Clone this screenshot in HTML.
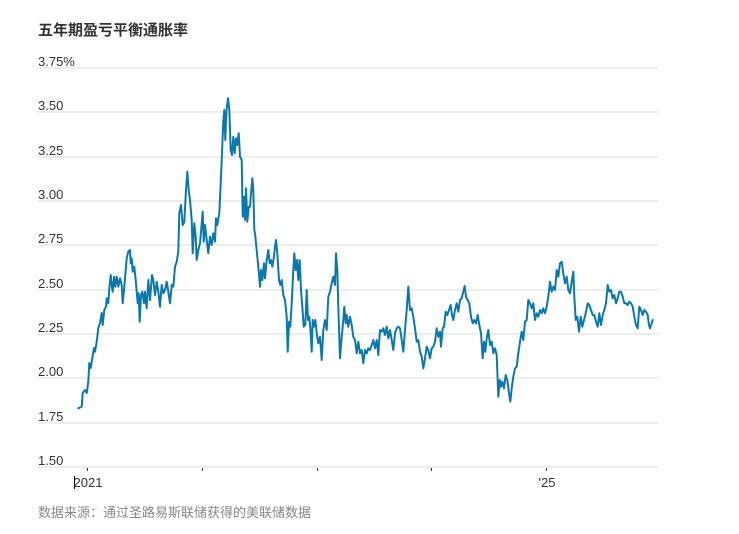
<!DOCTYPE html>
<html>
<head>
<meta charset="utf-8">
<style>
html,body{margin:0;padding:0;background:#fff;}
body{width:739px;height:534px;overflow:hidden;position:relative;}
svg{position:absolute;left:0;top:0;}
</style>
</head>
<body>
<svg width="739" height="534" viewBox="0 0 739 534" xmlns="http://www.w3.org/2000/svg">
  <text x="38" y="35" font-family="'Liberation Sans','Noto Sans CJK SC',sans-serif" font-size="15" font-weight="bold" fill="#333">五年期盈亏平衡通胀率</text>

  <g stroke="#ededed" stroke-width="2">
    <line x1="38" y1="68" x2="658" y2="68"/>
    <line x1="38" y1="112" x2="658" y2="112"/>
    <line x1="38" y1="157" x2="658" y2="157"/>
    <line x1="38" y1="201" x2="658" y2="201"/>
    <line x1="38" y1="245" x2="658" y2="245"/>
    <line x1="38" y1="290" x2="658" y2="290"/>
    <line x1="38" y1="334" x2="658" y2="334"/>
    <line x1="38" y1="378" x2="658" y2="378"/>
    <line x1="38" y1="423" x2="658" y2="423"/>
    <line x1="38" y1="467" x2="658" y2="467"/>
  </g>

  <g font-family="'Liberation Sans',sans-serif" font-size="13" fill="#333">
    <text x="38" y="66">3.75%</text>
    <text x="38" y="110">3.50</text>
    <text x="38" y="155">3.25</text>
    <text x="38" y="199">3.00</text>
    <text x="38" y="243">2.75</text>
    <text x="38" y="288">2.50</text>
    <text x="38" y="332">2.25</text>
    <text x="38" y="376">2.00</text>
    <text x="38" y="421">1.75</text>
    <text x="38" y="465">1.50</text>
  </g>

  <g stroke="#333" stroke-width="1">
    <line x1="87.5" y1="468" x2="87.5" y2="471"/>
    <line x1="202.5" y1="468" x2="202.5" y2="471"/>
    <line x1="317.5" y1="468" x2="317.5" y2="471"/>
    <line x1="431.5" y1="468" x2="431.5" y2="471"/>
    <line x1="546.5" y1="468" x2="546.5" y2="471"/>
  </g>
  <line x1="74.5" y1="476" x2="74.5" y2="489" stroke="#000" stroke-width="1"/>
  <g font-family="'Liberation Sans',sans-serif" font-size="13" fill="#333" text-anchor="middle">
    <text x="88" y="487">2021</text>
    <text x="547" y="487">'25</text>
  </g>

  <text x="38" y="517" font-family="'Liberation Sans','Noto Sans CJK SC',sans-serif" font-size="13" fill="#888">数据来源：通过圣路易斯联储获得的美联储数据</text>

  <polyline fill="none" stroke="#0b78ad" stroke-width="2" stroke-linejoin="round" stroke-linecap="round" points="
78.3,408.3 81.7,406.7 82.7,393 85,390 86.7,393 88.3,381.7 89.3,363 90.7,368 91.7,361.7 94,348 95,351.7 96.7,341.7 98.3,328 100,323 101.7,313 102.7,325 104.3,310 106,306.7 106.7,298.3 108.3,303.3 109.3,288.3 110.7,275 111.7,285 112.7,291.7 114,276.7 115.3,286.7 116.7,276.7 118.3,286.7 120,278.3 121.7,285 122.7,303.3 124.3,286.7 125.7,270 126.7,258.3 128.3,251.7 130,250 130.7,263.3 131.7,258.3 132.7,271.7 134.3,266.7 135.7,280 136.7,291.7 137.7,303.3 138.7,293.3 139.7,321.7 141,295 142.3,291.7 144,303.3 145,291.7 146.7,308.3 148.3,280 150,300 152,275 153.3,280 155,295 156.7,281.7 158.3,291.7 160,306.7 161.7,285 163.3,293.3 165,290 166.7,281.7 168.3,291.7 170,303.3 171.7,285 173.3,286.7 175,266.7 176.7,261.7 178.3,251.7 179.3,213.3 181,205 182.7,225 184.3,222 186,190 187.3,171.7 188.7,190 190,200 191.7,220 192.7,253.3 194.3,223.3 195.7,236.7 196.7,260 198.3,250 200,243.3 201.7,223.3 202.7,211.7 203.7,241.7 205,225 206.7,240 208.3,253.3 210,236.7 211.7,245 213.3,233.3 215,241.7 216,218.3 217.3,225 219.3,213.3 220.7,183.3 221.7,160 223.3,121.7 224.3,110 225.3,140 226,120 226.7,108.3 228,98.3 229.3,110 230.7,150 232,155 233.3,136.7 234.7,153.3 236,138.3 237.3,145 238.7,133.3 240,156.7 241.7,160 242.7,216.7 244,196.7 245,220 246,188.3 247.3,221.7 248.7,206.7 250,206.7 251,193.3 252.3,178.3 253.3,190 254.3,230 255,233.3 256.7,250 258.3,266.7 260,286.7 261,270 262.3,280 264,263.3 265,278.3 266.7,260 268.3,250 269.7,263.3 271,260 272.3,266.7 273.7,258.3 275,246.7 276,240 277.3,253.3 279,280 280.3,285 281.7,280 283.3,295 285,300 286.7,316.7 287.7,351.7 289,321.7 290.3,326.7 291.7,303.3 293.3,270 294.3,253.3 295.7,270 297,260 298.3,280 299.7,260 301,290 302.3,306.7 303.7,326.7 305.3,325 306.7,290 308,320 309.3,316.7 310.7,333.3 311.7,351.7 312.7,320 314,326.7 315.3,320 316.7,333.3 318.3,343.3 320,336.7 321.7,360 323.3,330 325,320 326.7,330 328.3,296.7 330,291.7 331.7,283.3 333.3,276.7 335,285 336,253.3 337.3,270 338.3,306.7 340,358.3 341.7,336.7 343.3,320 344.3,306.7 345.7,323.3 346.7,315 348.3,326.7 350,316.7 351.7,325 353.3,336.7 355,340 356.7,353.3 358.3,341.7 360,353.3 361.7,350 363.3,363.3 365,350 366.7,353.3 368.3,348.3 370,350 371.7,345 373.3,340 375,348.3 376.7,340 378.3,355 380,330 381.7,331.7 383.3,328.3 385,335 386.7,326.7 388.3,338.3 390,330 391.7,340 393.3,350 395,333.3 396.7,328.3 398.3,326.7 400,328.3 401.7,340 403.3,351.7 405,330 406.7,310 408.3,286.7 410,310 411.7,308.3 413.3,316.7 415,328.3 416.7,341.7 418.3,340 420,351.7 421.7,356.7 423.3,368.3 425,358.3 426.7,346.7 428.3,350 430,358.3 431.7,348.3 433.3,346.7 435,341.7 436.7,328.3 438.3,336.7 440,331.7 441,346.7 442.7,328.3 444,326.7 445.7,311.7 447.3,315 449,310 450.7,305 452,315 453.3,320 455,310 456.7,303.3 458.3,311.7 460,300 461.7,298.3 463.3,291.7 464.7,286 466,296.7 467.7,300 469.3,303.3 471,316.7 472.7,323.3 474.3,320 476,323.3 477.7,315 479.3,325 481,333.3 482.7,358.3 484,341.7 485.3,351.7 486.7,338.3 488.3,330 490,345 491.7,341.7 493.3,353.3 495,348.3 496.7,355 498.3,396.7 499.7,380 501,386.7 502.3,381.7 504,388.3 505.7,375 507.3,380 509,393.3 510.3,401.7 511.7,388.3 513.3,376.7 515,368.3 516.7,366.7 518.3,353.3 520,341.7 521.7,331.7 523.3,340 525,321.7 526.7,320 528.3,300 530,303.3 531.7,308.3 533.3,303.3 535,320 536.7,313.3 538.3,316.7 540,310 541.7,313.3 543.3,308.3 545,313.3 546.7,306.7 548.3,296.7 550,281.7 551.7,291.7 553.3,286.7 555,290 556.7,270 558.3,276.7 560,263.3 561.7,261.7 563.3,273.3 565,283.3 566.7,276.7 568.3,290 570,293.3 571.7,281.7 573.3,271.7 574.3,296.7 575.7,320 577.3,316.7 579,331.7 580.7,316.7 582.3,326.7 584,320 585.7,313.3 587.7,303.3 589.3,305 591,310 592.7,315 594.3,315 596,321.7 597.7,326.7 599.3,313.3 601,325 602.7,315 604.3,310 606,303.3 607.7,285 609.3,291.7 611,290 612.7,298.3 614.3,295 616,303.3 617.7,298.3 619.3,291.7 621,291.7 622.7,296.7 624.3,303.3 626,303.3 627.7,305 629.3,301.7 631,303.3 632.7,306.7 634.3,316.7 636,325 637.7,328.3 639.3,306.7 641,310 642.7,315 644.3,310 646,311.7 647.7,315 649,325 650,328.3 651.7,323.3 652.7,320"/>
</svg>
</body>
</html>
